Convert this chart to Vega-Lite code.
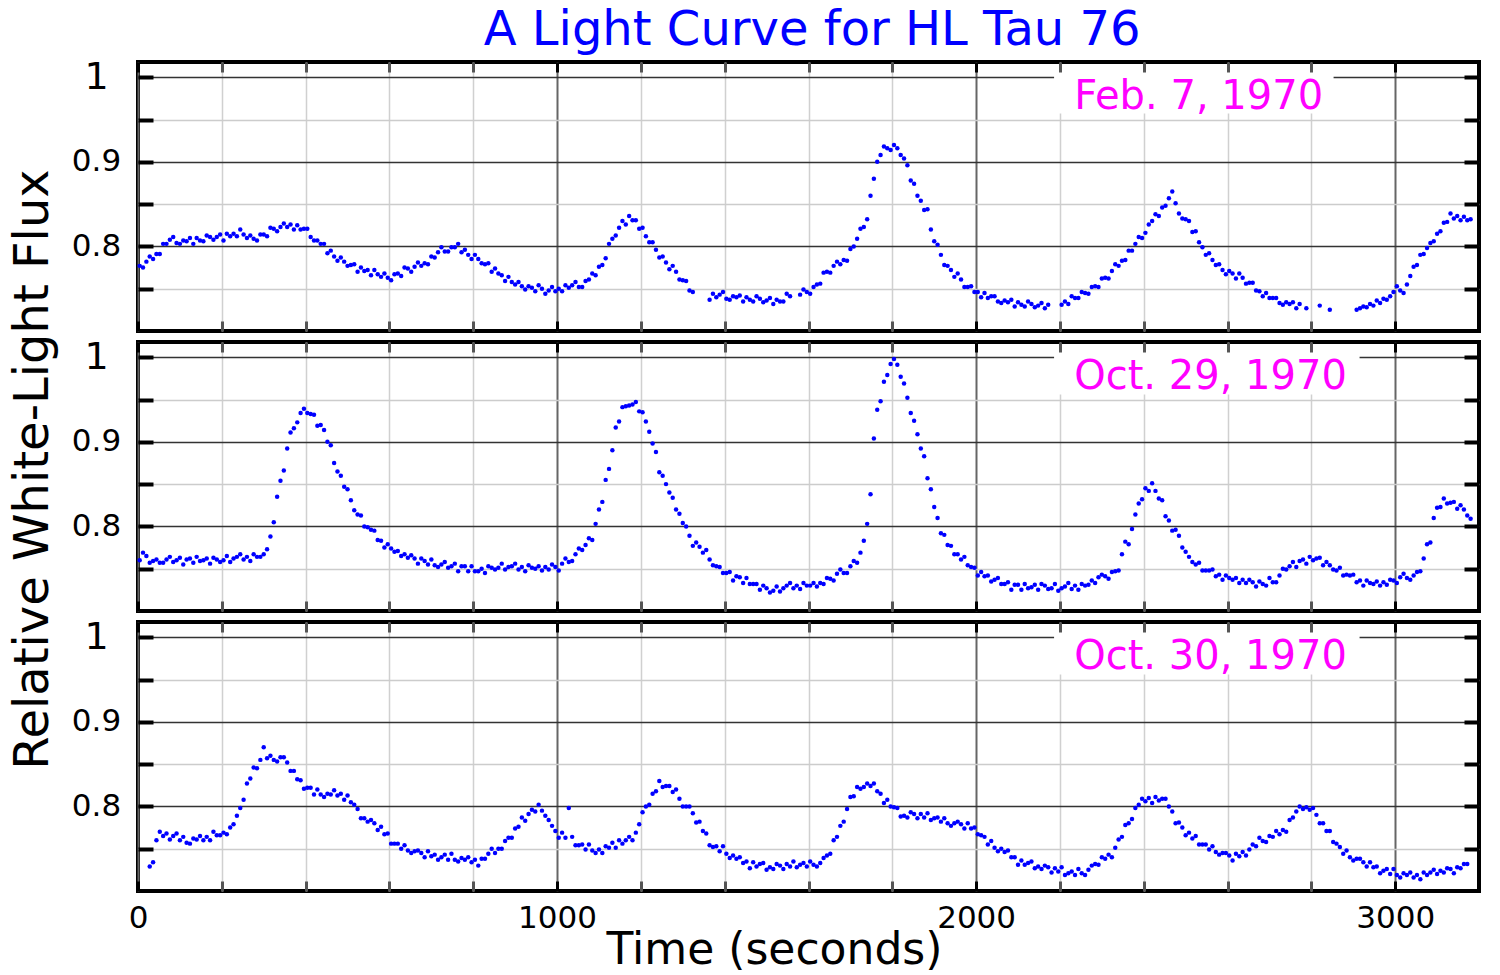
{
"$schema": "https://vega.github.io/schema/vega-lite/v6.json",
"background": "white",
"padding": {"left": 7, "top": 7, "right": 15, "bottom": 5},
"title": {"text": "A Light Curve for HL Tau 76", "color": "#0000ff", "fontSize": 48, "fontWeight": "normal", "anchor": "middle", "offset": 1, "dx": 67},
"config": {"font": "DejaVu Sans", "view": {"stroke": "black", "strokeWidth": 4}, "axis": {"labelColor": "#000000", "titleColor": "#000000"}},
"spacing": 11,
"bounds": "flush",
"datasets": {
"p1": [{"t":4,"f":0.777},{"t":12,"f":0.775},{"t":20,"f":0.782},{"t":28,"f":0.788},{"t":36,"f":0.785},{"t":44,"f":0.791},{"t":52,"f":0.791},{"t":60,"f":0.803},{"t":68,"f":0.803},{"t":76,"f":0.808},{"t":84,"f":0.811},{"t":92,"f":0.804},{"t":100,"f":0.803},{"t":108,"f":0.807},{"t":116,"f":0.806},{"t":124,"f":0.810},{"t":132,"f":0.803},{"t":140,"f":0.810},{"t":148,"f":0.807},{"t":156,"f":0.806},{"t":164,"f":0.813},{"t":172,"f":0.811},{"t":180,"f":0.808},{"t":188,"f":0.811},{"t":196,"f":0.814},{"t":204,"f":0.807},{"t":212,"f":0.815},{"t":220,"f":0.812},{"t":228,"f":0.815},{"t":236,"f":0.812},{"t":244,"f":0.820},{"t":252,"f":0.814},{"t":260,"f":0.810},{"t":268,"f":0.813},{"t":276,"f":0.809},{"t":284,"f":0.807},{"t":292,"f":0.814},{"t":300,"f":0.814},{"t":308,"f":0.812},{"t":316,"f":0.822},{"t":324,"f":0.821},{"t":332,"f":0.818},{"t":340,"f":0.823},{"t":348,"f":0.827},{"t":356,"f":0.823},{"t":364,"f":0.826},{"t":372,"f":0.820},{"t":380,"f":0.825},{"t":388,"f":0.820},{"t":396,"f":0.821},{"t":404,"f":0.821},{"t":412,"f":0.811},{"t":420,"f":0.807},{"t":428,"f":0.807},{"t":436,"f":0.803},{"t":444,"f":0.803},{"t":452,"f":0.792},{"t":460,"f":0.795},{"t":468,"f":0.788},{"t":476,"f":0.783},{"t":484,"f":0.787},{"t":492,"f":0.782},{"t":500,"f":0.777},{"t":508,"f":0.778},{"t":516,"f":0.779},{"t":524,"f":0.770},{"t":532,"f":0.775},{"t":540,"f":0.771},{"t":548,"f":0.772},{"t":556,"f":0.766},{"t":564,"f":0.772},{"t":572,"f":0.767},{"t":580,"f":0.764},{"t":588,"f":0.768},{"t":596,"f":0.763},{"t":604,"f":0.760},{"t":612,"f":0.767},{"t":620,"f":0.768},{"t":628,"f":0.765},{"t":636,"f":0.775},{"t":644,"f":0.774},{"t":652,"f":0.770},{"t":660,"f":0.776},{"t":668,"f":0.781},{"t":676,"f":0.777},{"t":684,"f":0.780},{"t":692,"f":0.779},{"t":700,"f":0.788},{"t":708,"f":0.787},{"t":716,"f":0.793},{"t":724,"f":0.799},{"t":732,"f":0.794},{"t":740,"f":0.794},{"t":748,"f":0.799},{"t":756,"f":0.799},{"t":764,"f":0.803},{"t":772,"f":0.793},{"t":780,"f":0.796},{"t":788,"f":0.790},{"t":796,"f":0.785},{"t":804,"f":0.790},{"t":812,"f":0.785},{"t":820,"f":0.780},{"t":828,"f":0.779},{"t":836,"f":0.780},{"t":844,"f":0.770},{"t":852,"f":0.774},{"t":860,"f":0.768},{"t":868,"f":0.766},{"t":876,"f":0.759},{"t":884,"f":0.764},{"t":892,"f":0.758},{"t":900,"f":0.755},{"t":908,"f":0.758},{"t":916,"f":0.753},{"t":924,"f":0.749},{"t":932,"f":0.753},{"t":940,"f":0.751},{"t":948,"f":0.747},{"t":956,"f":0.754},{"t":964,"f":0.750},{"t":972,"f":0.744},{"t":980,"f":0.748},{"t":988,"f":0.752},{"t":996,"f":0.747},{"t":1004,"f":0.750},{"t":1012,"f":0.747},{"t":1020,"f":0.754},{"t":1028,"f":0.751},{"t":1036,"f":0.754},{"t":1044,"f":0.758},{"t":1052,"f":0.752},{"t":1060,"f":0.752},{"t":1068,"f":0.759},{"t":1076,"f":0.761},{"t":1084,"f":0.768},{"t":1092,"f":0.766},{"t":1100,"f":0.776},{"t":1108,"f":0.778},{"t":1116,"f":0.786},{"t":1124,"f":0.803},{"t":1132,"f":0.809},{"t":1140,"f":0.813},{"t":1148,"f":0.822},{"t":1156,"f":0.830},{"t":1164,"f":0.826},{"t":1172,"f":0.836},{"t":1180,"f":0.831},{"t":1188,"f":0.831},{"t":1196,"f":0.821},{"t":1204,"f":0.822},{"t":1212,"f":0.812},{"t":1220,"f":0.805},{"t":1228,"f":0.805},{"t":1236,"f":0.796},{"t":1244,"f":0.787},{"t":1252,"f":0.788},{"t":1260,"f":0.781},{"t":1268,"f":0.773},{"t":1276,"f":0.777},{"t":1284,"f":0.770},{"t":1292,"f":0.761},{"t":1300,"f":0.760},{"t":1308,"f":0.759},{"t":1316,"f":0.748},{"t":1324,"f":0.746},{"t":1364,"f":0.737},{"t":1372,"f":0.744},{"t":1380,"f":0.740},{"t":1388,"f":0.743},{"t":1396,"f":0.746},{"t":1404,"f":0.738},{"t":1412,"f":0.737},{"t":1420,"f":0.741},{"t":1428,"f":0.740},{"t":1436,"f":0.742},{"t":1444,"f":0.735},{"t":1452,"f":0.740},{"t":1460,"f":0.737},{"t":1468,"f":0.735},{"t":1476,"f":0.741},{"t":1484,"f":0.738},{"t":1492,"f":0.734},{"t":1500,"f":0.736},{"t":1508,"f":0.739},{"t":1516,"f":0.732},{"t":1524,"f":0.737},{"t":1532,"f":0.735},{"t":1540,"f":0.735},{"t":1548,"f":0.744},{"t":1556,"f":0.741},{"t":1580,"f":0.743},{"t":1588,"f":0.749},{"t":1596,"f":0.746},{"t":1604,"f":0.744},{"t":1612,"f":0.752},{"t":1620,"f":0.755},{"t":1628,"f":0.756},{"t":1636,"f":0.769},{"t":1644,"f":0.770},{"t":1652,"f":0.769},{"t":1660,"f":0.777},{"t":1668,"f":0.782},{"t":1676,"f":0.779},{"t":1684,"f":0.784},{"t":1692,"f":0.783},{"t":1700,"f":0.797},{"t":1708,"f":0.800},{"t":1716,"f":0.809},{"t":1724,"f":0.821},{"t":1732,"f":0.823},{"t":1740,"f":0.832},{"t":1748,"f":0.860},{"t":1756,"f":0.880},{"t":1764,"f":0.900},{"t":1772,"f":0.908},{"t":1780,"f":0.918},{"t":1788,"f":0.916},{"t":1796,"f":0.914},{"t":1804,"f":0.920},{"t":1812,"f":0.916},{"t":1820,"f":0.908},{"t":1828,"f":0.904},{"t":1836,"f":0.896},{"t":1844,"f":0.878},{"t":1852,"f":0.874},{"t":1860,"f":0.860},{"t":1868,"f":0.854},{"t":1876,"f":0.843},{"t":1884,"f":0.844},{"t":1892,"f":0.820},{"t":1900,"f":0.806},{"t":1908,"f":0.802},{"t":1916,"f":0.790},{"t":1924,"f":0.778},{"t":1932,"f":0.777},{"t":1940,"f":0.772},{"t":1948,"f":0.764},{"t":1956,"f":0.768},{"t":1964,"f":0.761},{"t":1972,"f":0.752},{"t":1980,"f":0.752},{"t":1988,"f":0.753},{"t":1996,"f":0.746},{"t":2004,"f":0.746},{"t":2012,"f":0.740},{"t":2020,"f":0.745},{"t":2028,"f":0.739},{"t":2036,"f":0.741},{"t":2044,"f":0.741},{"t":2052,"f":0.735},{"t":2060,"f":0.733},{"t":2068,"f":0.736},{"t":2076,"f":0.734},{"t":2084,"f":0.737},{"t":2092,"f":0.729},{"t":2100,"f":0.734},{"t":2108,"f":0.731},{"t":2116,"f":0.729},{"t":2124,"f":0.735},{"t":2132,"f":0.732},{"t":2140,"f":0.728},{"t":2148,"f":0.730},{"t":2156,"f":0.733},{"t":2164,"f":0.727},{"t":2172,"f":0.731},{"t":2204,"f":0.731},{"t":2212,"f":0.735},{"t":2220,"f":0.732},{"t":2228,"f":0.741},{"t":2236,"f":0.739},{"t":2244,"f":0.739},{"t":2252,"f":0.746},{"t":2260,"f":0.745},{"t":2268,"f":0.744},{"t":2276,"f":0.752},{"t":2284,"f":0.753},{"t":2292,"f":0.752},{"t":2300,"f":0.762},{"t":2308,"f":0.763},{"t":2316,"f":0.762},{"t":2324,"f":0.771},{"t":2332,"f":0.779},{"t":2340,"f":0.777},{"t":2348,"f":0.783},{"t":2356,"f":0.784},{"t":2364,"f":0.795},{"t":2372,"f":0.795},{"t":2380,"f":0.803},{"t":2388,"f":0.811},{"t":2396,"f":0.810},{"t":2404,"f":0.816},{"t":2412,"f":0.826},{"t":2420,"f":0.830},{"t":2428,"f":0.838},{"t":2436,"f":0.836},{"t":2444,"f":0.846},{"t":2452,"f":0.848},{"t":2460,"f":0.857},{"t":2468,"f":0.865},{"t":2476,"f":0.851},{"t":2484,"f":0.839},{"t":2492,"f":0.833},{"t":2500,"f":0.832},{"t":2508,"f":0.830},{"t":2516,"f":0.817},{"t":2524,"f":0.818},{"t":2532,"f":0.805},{"t":2540,"f":0.799},{"t":2548,"f":0.790},{"t":2556,"f":0.792},{"t":2564,"f":0.784},{"t":2572,"f":0.778},{"t":2580,"f":0.779},{"t":2588,"f":0.772},{"t":2596,"f":0.767},{"t":2604,"f":0.771},{"t":2612,"f":0.768},{"t":2620,"f":0.762},{"t":2628,"f":0.768},{"t":2636,"f":0.763},{"t":2644,"f":0.756},{"t":2652,"f":0.757},{"t":2660,"f":0.757},{"t":2668,"f":0.748},{"t":2676,"f":0.747},{"t":2684,"f":0.741},{"t":2692,"f":0.745},{"t":2700,"f":0.739},{"t":2708,"f":0.739},{"t":2716,"f":0.739},{"t":2724,"f":0.733},{"t":2732,"f":0.731},{"t":2740,"f":0.734},{"t":2748,"f":0.732},{"t":2756,"f":0.734},{"t":2764,"f":0.727},{"t":2772,"f":0.732},{"t":2788,"f":0.727},{"t":2820,"f":0.730},{"t":2844,"f":0.725},{"t":2908,"f":0.725},{"t":2916,"f":0.727},{"t":2924,"f":0.729},{"t":2932,"f":0.728},{"t":2940,"f":0.732},{"t":2948,"f":0.730},{"t":2956,"f":0.736},{"t":2964,"f":0.733},{"t":2972,"f":0.738},{"t":2980,"f":0.737},{"t":2988,"f":0.741},{"t":2996,"f":0.746},{"t":3004,"f":0.753},{"t":3012,"f":0.748},{"t":3020,"f":0.745},{"t":3028,"f":0.755},{"t":3036,"f":0.765},{"t":3044,"f":0.776},{"t":3052,"f":0.778},{"t":3060,"f":0.790},{"t":3068,"f":0.791},{"t":3076,"f":0.798},{"t":3084,"f":0.804},{"t":3092,"f":0.806},{"t":3100,"f":0.815},{"t":3108,"f":0.818},{"t":3116,"f":0.828},{"t":3124,"f":0.829},{"t":3132,"f":0.839},{"t":3140,"f":0.833},{"t":3148,"f":0.836},{"t":3156,"f":0.831},{"t":3164,"f":0.835},{"t":3172,"f":0.831},{"t":3180,"f":0.832}],
"p2": [{"t":4,"f":0.760},{"t":12,"f":0.769},{"t":20,"f":0.765},{"t":28,"f":0.757},{"t":36,"f":0.759},{"t":44,"f":0.761},{"t":52,"f":0.757},{"t":60,"f":0.757},{"t":68,"f":0.761},{"t":76,"f":0.764},{"t":84,"f":0.758},{"t":92,"f":0.760},{"t":100,"f":0.763},{"t":108,"f":0.755},{"t":116,"f":0.761},{"t":124,"f":0.762},{"t":132,"f":0.757},{"t":140,"f":0.764},{"t":148,"f":0.759},{"t":156,"f":0.760},{"t":164,"f":0.762},{"t":172,"f":0.756},{"t":180,"f":0.763},{"t":188,"f":0.761},{"t":196,"f":0.758},{"t":204,"f":0.760},{"t":212,"f":0.765},{"t":220,"f":0.758},{"t":228,"f":0.762},{"t":236,"f":0.764},{"t":244,"f":0.767},{"t":252,"f":0.761},{"t":260,"f":0.764},{"t":268,"f":0.759},{"t":276,"f":0.767},{"t":284,"f":0.764},{"t":292,"f":0.764},{"t":300,"f":0.767},{"t":308,"f":0.773},{"t":316,"f":0.788},{"t":324,"f":0.805},{"t":332,"f":0.835},{"t":340,"f":0.854},{"t":348,"f":0.866},{"t":356,"f":0.892},{"t":364,"f":0.911},{"t":372,"f":0.916},{"t":380,"f":0.923},{"t":388,"f":0.934},{"t":396,"f":0.939},{"t":404,"f":0.934},{"t":412,"f":0.933},{"t":420,"f":0.932},{"t":428,"f":0.919},{"t":436,"f":0.920},{"t":444,"f":0.914},{"t":452,"f":0.900},{"t":460,"f":0.896},{"t":468,"f":0.875},{"t":476,"f":0.865},{"t":484,"f":0.860},{"t":492,"f":0.847},{"t":500,"f":0.844},{"t":508,"f":0.831},{"t":516,"f":0.819},{"t":524,"f":0.814},{"t":532,"f":0.813},{"t":540,"f":0.800},{"t":548,"f":0.799},{"t":556,"f":0.796},{"t":564,"f":0.795},{"t":572,"f":0.784},{"t":580,"f":0.783},{"t":588,"f":0.775},{"t":596,"f":0.779},{"t":604,"f":0.774},{"t":612,"f":0.770},{"t":620,"f":0.771},{"t":628,"f":0.765},{"t":636,"f":0.767},{"t":644,"f":0.763},{"t":652,"f":0.766},{"t":660,"f":0.762},{"t":668,"f":0.756},{"t":676,"f":0.762},{"t":684,"f":0.759},{"t":692,"f":0.755},{"t":700,"f":0.761},{"t":708,"f":0.754},{"t":716,"f":0.752},{"t":724,"f":0.755},{"t":732,"f":0.758},{"t":740,"f":0.751},{"t":748,"f":0.753},{"t":756,"f":0.756},{"t":764,"f":0.747},{"t":772,"f":0.753},{"t":780,"f":0.753},{"t":788,"f":0.747},{"t":796,"f":0.753},{"t":804,"f":0.747},{"t":812,"f":0.747},{"t":820,"f":0.750},{"t":828,"f":0.745},{"t":836,"f":0.753},{"t":844,"f":0.751},{"t":852,"f":0.749},{"t":860,"f":0.751},{"t":868,"f":0.756},{"t":876,"f":0.749},{"t":884,"f":0.752},{"t":892,"f":0.753},{"t":900,"f":0.756},{"t":908,"f":0.749},{"t":916,"f":0.752},{"t":924,"f":0.747},{"t":932,"f":0.754},{"t":940,"f":0.751},{"t":948,"f":0.750},{"t":956,"f":0.753},{"t":964,"f":0.748},{"t":972,"f":0.752},{"t":980,"f":0.749},{"t":988,"f":0.755},{"t":996,"f":0.752},{"t":1004,"f":0.748},{"t":1012,"f":0.756},{"t":1020,"f":0.762},{"t":1028,"f":0.758},{"t":1036,"f":0.759},{"t":1044,"f":0.767},{"t":1052,"f":0.774},{"t":1060,"f":0.772},{"t":1068,"f":0.778},{"t":1076,"f":0.786},{"t":1084,"f":0.784},{"t":1092,"f":0.803},{"t":1100,"f":0.820},{"t":1108,"f":0.829},{"t":1116,"f":0.855},{"t":1124,"f":0.868},{"t":1132,"f":0.890},{"t":1140,"f":0.917},{"t":1148,"f":0.924},{"t":1156,"f":0.941},{"t":1164,"f":0.942},{"t":1172,"f":0.943},{"t":1180,"f":0.944},{"t":1188,"f":0.947},{"t":1196,"f":0.936},{"t":1204,"f":0.935},{"t":1212,"f":0.924},{"t":1220,"f":0.912},{"t":1228,"f":0.898},{"t":1236,"f":0.888},{"t":1244,"f":0.864},{"t":1252,"f":0.860},{"t":1260,"f":0.850},{"t":1268,"f":0.840},{"t":1276,"f":0.834},{"t":1284,"f":0.820},{"t":1292,"f":0.815},{"t":1300,"f":0.804},{"t":1308,"f":0.800},{"t":1316,"f":0.789},{"t":1324,"f":0.777},{"t":1332,"f":0.781},{"t":1340,"f":0.776},{"t":1348,"f":0.769},{"t":1356,"f":0.772},{"t":1364,"f":0.761},{"t":1372,"f":0.754},{"t":1380,"f":0.753},{"t":1388,"f":0.752},{"t":1396,"f":0.745},{"t":1404,"f":0.745},{"t":1412,"f":0.746},{"t":1420,"f":0.736},{"t":1428,"f":0.741},{"t":1436,"f":0.740},{"t":1444,"f":0.733},{"t":1452,"f":0.739},{"t":1460,"f":0.732},{"t":1468,"f":0.732},{"t":1476,"f":0.732},{"t":1484,"f":0.725},{"t":1492,"f":0.730},{"t":1500,"f":0.727},{"t":1508,"f":0.722},{"t":1516,"f":0.724},{"t":1524,"f":0.729},{"t":1532,"f":0.723},{"t":1540,"f":0.727},{"t":1548,"f":0.730},{"t":1556,"f":0.733},{"t":1564,"f":0.727},{"t":1572,"f":0.730},{"t":1580,"f":0.726},{"t":1588,"f":0.733},{"t":1596,"f":0.730},{"t":1604,"f":0.730},{"t":1612,"f":0.733},{"t":1620,"f":0.729},{"t":1628,"f":0.733},{"t":1636,"f":0.732},{"t":1644,"f":0.739},{"t":1652,"f":0.738},{"t":1660,"f":0.736},{"t":1668,"f":0.744},{"t":1676,"f":0.749},{"t":1684,"f":0.745},{"t":1692,"f":0.745},{"t":1700,"f":0.753},{"t":1708,"f":0.759},{"t":1716,"f":0.757},{"t":1724,"f":0.769},{"t":1732,"f":0.783},{"t":1740,"f":0.803},{"t":1748,"f":0.838},{"t":1756,"f":0.904},{"t":1764,"f":0.938},{"t":1772,"f":0.948},{"t":1780,"f":0.971},{"t":1788,"f":0.979},{"t":1796,"f":0.992},{"t":1804,"f":0.998},{"t":1812,"f":0.991},{"t":1820,"f":0.977},{"t":1828,"f":0.969},{"t":1836,"f":0.952},{"t":1844,"f":0.934},{"t":1852,"f":0.925},{"t":1860,"f":0.909},{"t":1868,"f":0.892},{"t":1876,"f":0.883},{"t":1884,"f":0.857},{"t":1892,"f":0.844},{"t":1900,"f":0.823},{"t":1908,"f":0.810},{"t":1916,"f":0.792},{"t":1924,"f":0.790},{"t":1932,"f":0.778},{"t":1940,"f":0.777},{"t":1948,"f":0.767},{"t":1956,"f":0.767},{"t":1964,"f":0.761},{"t":1972,"f":0.764},{"t":1980,"f":0.754},{"t":1988,"f":0.752},{"t":1996,"f":0.751},{"t":2004,"f":0.742},{"t":2012,"f":0.746},{"t":2020,"f":0.741},{"t":2028,"f":0.742},{"t":2036,"f":0.735},{"t":2044,"f":0.737},{"t":2052,"f":0.739},{"t":2060,"f":0.732},{"t":2068,"f":0.732},{"t":2076,"f":0.734},{"t":2084,"f":0.725},{"t":2092,"f":0.731},{"t":2100,"f":0.731},{"t":2108,"f":0.725},{"t":2116,"f":0.732},{"t":2124,"f":0.727},{"t":2132,"f":0.728},{"t":2140,"f":0.731},{"t":2148,"f":0.725},{"t":2156,"f":0.732},{"t":2164,"f":0.730},{"t":2172,"f":0.726},{"t":2180,"f":0.727},{"t":2188,"f":0.732},{"t":2196,"f":0.724},{"t":2204,"f":0.727},{"t":2212,"f":0.729},{"t":2220,"f":0.733},{"t":2228,"f":0.726},{"t":2236,"f":0.730},{"t":2244,"f":0.725},{"t":2252,"f":0.732},{"t":2260,"f":0.730},{"t":2268,"f":0.731},{"t":2276,"f":0.736},{"t":2284,"f":0.733},{"t":2292,"f":0.740},{"t":2300,"f":0.743},{"t":2308,"f":0.741},{"t":2316,"f":0.738},{"t":2324,"f":0.746},{"t":2332,"f":0.747},{"t":2340,"f":0.748},{"t":2348,"f":0.767},{"t":2356,"f":0.782},{"t":2364,"f":0.779},{"t":2372,"f":0.797},{"t":2380,"f":0.814},{"t":2388,"f":0.827},{"t":2396,"f":0.832},{"t":2404,"f":0.845},{"t":2412,"f":0.842},{"t":2420,"f":0.851},{"t":2428,"f":0.842},{"t":2436,"f":0.833},{"t":2444,"f":0.831},{"t":2452,"f":0.812},{"t":2460,"f":0.807},{"t":2468,"f":0.795},{"t":2476,"f":0.796},{"t":2484,"f":0.789},{"t":2492,"f":0.775},{"t":2500,"f":0.770},{"t":2508,"f":0.764},{"t":2516,"f":0.758},{"t":2524,"f":0.755},{"t":2532,"f":0.757},{"t":2540,"f":0.748},{"t":2548,"f":0.748},{"t":2556,"f":0.748},{"t":2564,"f":0.749},{"t":2572,"f":0.741},{"t":2580,"f":0.743},{"t":2588,"f":0.737},{"t":2596,"f":0.742},{"t":2604,"f":0.739},{"t":2612,"f":0.737},{"t":2620,"f":0.739},{"t":2628,"f":0.733},{"t":2636,"f":0.737},{"t":2644,"f":0.733},{"t":2652,"f":0.737},{"t":2660,"f":0.734},{"t":2668,"f":0.729},{"t":2676,"f":0.735},{"t":2684,"f":0.732},{"t":2692,"f":0.730},{"t":2700,"f":0.739},{"t":2708,"f":0.734},{"t":2716,"f":0.734},{"t":2724,"f":0.742},{"t":2732,"f":0.750},{"t":2740,"f":0.749},{"t":2748,"f":0.753},{"t":2756,"f":0.758},{"t":2764,"f":0.752},{"t":2772,"f":0.759},{"t":2780,"f":0.761},{"t":2788,"f":0.756},{"t":2796,"f":0.764},{"t":2804,"f":0.760},{"t":2812,"f":0.762},{"t":2820,"f":0.763},{"t":2828,"f":0.754},{"t":2836,"f":0.758},{"t":2844,"f":0.754},{"t":2852,"f":0.749},{"t":2860,"f":0.748},{"t":2868,"f":0.751},{"t":2876,"f":0.742},{"t":2884,"f":0.743},{"t":2892,"f":0.742},{"t":2900,"f":0.743},{"t":2908,"f":0.734},{"t":2916,"f":0.736},{"t":2924,"f":0.730},{"t":2932,"f":0.736},{"t":2940,"f":0.733},{"t":2948,"f":0.732},{"t":2956,"f":0.735},{"t":2964,"f":0.730},{"t":2972,"f":0.734},{"t":2980,"f":0.731},{"t":2988,"f":0.737},{"t":2996,"f":0.736},{"t":3004,"f":0.733},{"t":3012,"f":0.740},{"t":3020,"f":0.744},{"t":3028,"f":0.739},{"t":3036,"f":0.737},{"t":3044,"f":0.742},{"t":3052,"f":0.746},{"t":3060,"f":0.747},{"t":3068,"f":0.762},{"t":3076,"f":0.779},{"t":3084,"f":0.781},{"t":3092,"f":0.810},{"t":3100,"f":0.822},{"t":3108,"f":0.823},{"t":3116,"f":0.833},{"t":3124,"f":0.827},{"t":3132,"f":0.828},{"t":3140,"f":0.829},{"t":3148,"f":0.821},{"t":3156,"f":0.825},{"t":3164,"f":0.820},{"t":3172,"f":0.813},{"t":3180,"f":0.809}],
"p3": [{"t":28,"f":0.729},{"t":36,"f":0.734},{"t":44,"f":0.760},{"t":52,"f":0.770},{"t":60,"f":0.765},{"t":68,"f":0.768},{"t":76,"f":0.761},{"t":84,"f":0.765},{"t":92,"f":0.768},{"t":100,"f":0.760},{"t":108,"f":0.764},{"t":116,"f":0.757},{"t":124,"f":0.756},{"t":132,"f":0.762},{"t":140,"f":0.761},{"t":148,"f":0.765},{"t":156,"f":0.760},{"t":164,"f":0.764},{"t":172,"f":0.760},{"t":180,"f":0.770},{"t":188,"f":0.766},{"t":196,"f":0.766},{"t":204,"f":0.769},{"t":212,"f":0.767},{"t":220,"f":0.775},{"t":228,"f":0.779},{"t":236,"f":0.789},{"t":244,"f":0.798},{"t":252,"f":0.808},{"t":260,"f":0.827},{"t":268,"f":0.833},{"t":276,"f":0.846},{"t":284,"f":0.845},{"t":292,"f":0.855},{"t":300,"f":0.870},{"t":308,"f":0.857},{"t":316,"f":0.860},{"t":324,"f":0.855},{"t":332,"f":0.853},{"t":340,"f":0.858},{"t":348,"f":0.858},{"t":356,"f":0.852},{"t":364,"f":0.842},{"t":372,"f":0.842},{"t":380,"f":0.832},{"t":388,"f":0.831},{"t":396,"f":0.821},{"t":404,"f":0.822},{"t":412,"f":0.822},{"t":420,"f":0.814},{"t":428,"f":0.820},{"t":436,"f":0.814},{"t":444,"f":0.811},{"t":452,"f":0.815},{"t":460,"f":0.814},{"t":468,"f":0.819},{"t":476,"f":0.813},{"t":484,"f":0.815},{"t":492,"f":0.808},{"t":500,"f":0.813},{"t":508,"f":0.805},{"t":516,"f":0.802},{"t":524,"f":0.797},{"t":532,"f":0.786},{"t":540,"f":0.786},{"t":548,"f":0.782},{"t":556,"f":0.784},{"t":564,"f":0.780},{"t":572,"f":0.772},{"t":580,"f":0.776},{"t":588,"f":0.767},{"t":596,"f":0.768},{"t":604,"f":0.756},{"t":612,"f":0.756},{"t":620,"f":0.756},{"t":628,"f":0.750},{"t":636,"f":0.754},{"t":644,"f":0.748},{"t":652,"f":0.745},{"t":660,"f":0.747},{"t":668,"f":0.748},{"t":676,"f":0.745},{"t":684,"f":0.740},{"t":692,"f":0.747},{"t":700,"f":0.741},{"t":708,"f":0.743},{"t":716,"f":0.737},{"t":724,"f":0.740},{"t":732,"f":0.743},{"t":740,"f":0.737},{"t":748,"f":0.744},{"t":756,"f":0.737},{"t":764,"f":0.735},{"t":772,"f":0.739},{"t":780,"f":0.737},{"t":788,"f":0.740},{"t":796,"f":0.734},{"t":804,"f":0.737},{"t":812,"f":0.730},{"t":820,"f":0.738},{"t":828,"f":0.738},{"t":836,"f":0.744},{"t":844,"f":0.750},{"t":852,"f":0.745},{"t":860,"f":0.750},{"t":868,"f":0.750},{"t":876,"f":0.759},{"t":884,"f":0.763},{"t":892,"f":0.763},{"t":900,"f":0.774},{"t":908,"f":0.776},{"t":916,"f":0.787},{"t":924,"f":0.783},{"t":932,"f":0.791},{"t":940,"f":0.796},{"t":948,"f":0.794},{"t":956,"f":0.802},{"t":964,"f":0.795},{"t":972,"f":0.789},{"t":980,"f":0.784},{"t":988,"f":0.777},{"t":996,"f":0.771},{"t":1004,"f":0.763},{"t":1012,"f":0.769},{"t":1020,"f":0.763},{"t":1028,"f":0.798},{"t":1036,"f":0.764},{"t":1044,"f":0.754},{"t":1052,"f":0.754},{"t":1060,"f":0.755},{"t":1068,"f":0.749},{"t":1076,"f":0.755},{"t":1084,"f":0.748},{"t":1092,"f":0.745},{"t":1100,"f":0.749},{"t":1108,"f":0.745},{"t":1116,"f":0.753},{"t":1124,"f":0.751},{"t":1132,"f":0.757},{"t":1140,"f":0.751},{"t":1148,"f":0.760},{"t":1156,"f":0.756},{"t":1164,"f":0.760},{"t":1172,"f":0.764},{"t":1180,"f":0.760},{"t":1188,"f":0.769},{"t":1196,"f":0.779},{"t":1204,"f":0.793},{"t":1212,"f":0.800},{"t":1220,"f":0.802},{"t":1228,"f":0.815},{"t":1236,"f":0.818},{"t":1244,"f":0.830},{"t":1252,"f":0.823},{"t":1260,"f":0.824},{"t":1268,"f":0.824},{"t":1276,"f":0.817},{"t":1284,"f":0.820},{"t":1292,"f":0.809},{"t":1300,"f":0.800},{"t":1308,"f":0.800},{"t":1316,"f":0.800},{"t":1324,"f":0.792},{"t":1332,"f":0.781},{"t":1340,"f":0.782},{"t":1348,"f":0.771},{"t":1356,"f":0.768},{"t":1364,"f":0.754},{"t":1372,"f":0.752},{"t":1380,"f":0.753},{"t":1388,"f":0.747},{"t":1396,"f":0.753},{"t":1404,"f":0.744},{"t":1412,"f":0.739},{"t":1420,"f":0.742},{"t":1428,"f":0.738},{"t":1436,"f":0.740},{"t":1444,"f":0.733},{"t":1452,"f":0.735},{"t":1460,"f":0.727},{"t":1468,"f":0.734},{"t":1476,"f":0.729},{"t":1484,"f":0.732},{"t":1492,"f":0.733},{"t":1500,"f":0.725},{"t":1508,"f":0.728},{"t":1516,"f":0.726},{"t":1524,"f":0.732},{"t":1532,"f":0.730},{"t":1540,"f":0.726},{"t":1548,"f":0.732},{"t":1556,"f":0.729},{"t":1564,"f":0.735},{"t":1572,"f":0.728},{"t":1580,"f":0.731},{"t":1588,"f":0.733},{"t":1596,"f":0.729},{"t":1604,"f":0.735},{"t":1612,"f":0.731},{"t":1620,"f":0.729},{"t":1628,"f":0.733},{"t":1636,"f":0.739},{"t":1644,"f":0.742},{"t":1652,"f":0.744},{"t":1660,"f":0.760},{"t":1668,"f":0.764},{"t":1676,"f":0.777},{"t":1684,"f":0.782},{"t":1692,"f":0.797},{"t":1700,"f":0.811},{"t":1708,"f":0.812},{"t":1716,"f":0.823},{"t":1724,"f":0.821},{"t":1732,"f":0.823},{"t":1740,"f":0.827},{"t":1748,"f":0.824},{"t":1756,"f":0.827},{"t":1764,"f":0.818},{"t":1772,"f":0.815},{"t":1780,"f":0.804},{"t":1788,"f":0.808},{"t":1796,"f":0.800},{"t":1804,"f":0.799},{"t":1812,"f":0.798},{"t":1820,"f":0.788},{"t":1828,"f":0.789},{"t":1836,"f":0.787},{"t":1844,"f":0.793},{"t":1852,"f":0.791},{"t":1860,"f":0.786},{"t":1868,"f":0.791},{"t":1876,"f":0.787},{"t":1884,"f":0.792},{"t":1892,"f":0.784},{"t":1900,"f":0.786},{"t":1908,"f":0.787},{"t":1916,"f":0.782},{"t":1924,"f":0.786},{"t":1932,"f":0.780},{"t":1940,"f":0.777},{"t":1948,"f":0.780},{"t":1956,"f":0.782},{"t":1964,"f":0.779},{"t":1972,"f":0.774},{"t":1980,"f":0.780},{"t":1988,"f":0.774},{"t":1996,"f":0.775},{"t":2004,"f":0.767},{"t":2012,"f":0.766},{"t":2020,"f":0.764},{"t":2028,"f":0.755},{"t":2036,"f":0.759},{"t":2044,"f":0.751},{"t":2052,"f":0.747},{"t":2060,"f":0.750},{"t":2068,"f":0.746},{"t":2076,"f":0.748},{"t":2084,"f":0.740},{"t":2092,"f":0.740},{"t":2100,"f":0.731},{"t":2108,"f":0.736},{"t":2116,"f":0.731},{"t":2124,"f":0.733},{"t":2132,"f":0.735},{"t":2140,"f":0.727},{"t":2148,"f":0.729},{"t":2156,"f":0.726},{"t":2164,"f":0.730},{"t":2172,"f":0.728},{"t":2180,"f":0.722},{"t":2188,"f":0.727},{"t":2196,"f":0.723},{"t":2204,"f":0.728},{"t":2212,"f":0.719},{"t":2220,"f":0.721},{"t":2228,"f":0.723},{"t":2236,"f":0.719},{"t":2244,"f":0.726},{"t":2252,"f":0.721},{"t":2260,"f":0.719},{"t":2268,"f":0.725},{"t":2276,"f":0.730},{"t":2284,"f":0.732},{"t":2292,"f":0.731},{"t":2300,"f":0.740},{"t":2308,"f":0.738},{"t":2316,"f":0.743},{"t":2324,"f":0.740},{"t":2332,"f":0.751},{"t":2340,"f":0.761},{"t":2348,"f":0.764},{"t":2356,"f":0.778},{"t":2364,"f":0.780},{"t":2372,"f":0.785},{"t":2380,"f":0.798},{"t":2388,"f":0.802},{"t":2396,"f":0.809},{"t":2404,"f":0.806},{"t":2412,"f":0.810},{"t":2420,"f":0.804},{"t":2428,"f":0.811},{"t":2436,"f":0.807},{"t":2444,"f":0.809},{"t":2452,"f":0.809},{"t":2460,"f":0.800},{"t":2468,"f":0.794},{"t":2476,"f":0.780},{"t":2484,"f":0.781},{"t":2492,"f":0.775},{"t":2500,"f":0.766},{"t":2508,"f":0.769},{"t":2516,"f":0.762},{"t":2524,"f":0.765},{"t":2532,"f":0.755},{"t":2540,"f":0.755},{"t":2548,"f":0.755},{"t":2556,"f":0.749},{"t":2564,"f":0.753},{"t":2572,"f":0.746},{"t":2580,"f":0.743},{"t":2588,"f":0.745},{"t":2596,"f":0.745},{"t":2604,"f":0.742},{"t":2612,"f":0.736},{"t":2620,"f":0.744},{"t":2628,"f":0.741},{"t":2636,"f":0.746},{"t":2644,"f":0.742},{"t":2652,"f":0.749},{"t":2660,"f":0.755},{"t":2668,"f":0.753},{"t":2676,"f":0.763},{"t":2684,"f":0.759},{"t":2692,"f":0.758},{"t":2700,"f":0.765},{"t":2708,"f":0.764},{"t":2716,"f":0.771},{"t":2724,"f":0.767},{"t":2732,"f":0.772},{"t":2740,"f":0.770},{"t":2748,"f":0.784},{"t":2756,"f":0.787},{"t":2764,"f":0.794},{"t":2772,"f":0.800},{"t":2780,"f":0.797},{"t":2788,"f":0.799},{"t":2796,"f":0.796},{"t":2804,"f":0.798},{"t":2812,"f":0.790},{"t":2820,"f":0.780},{"t":2828,"f":0.780},{"t":2836,"f":0.771},{"t":2844,"f":0.771},{"t":2852,"f":0.758},{"t":2860,"f":0.756},{"t":2868,"f":0.752},{"t":2876,"f":0.744},{"t":2884,"f":0.748},{"t":2892,"f":0.740},{"t":2900,"f":0.736},{"t":2908,"f":0.738},{"t":2916,"f":0.738},{"t":2924,"f":0.734},{"t":2932,"f":0.729},{"t":2940,"f":0.734},{"t":2948,"f":0.728},{"t":2956,"f":0.729},{"t":2964,"f":0.721},{"t":2972,"f":0.724},{"t":2980,"f":0.726},{"t":2988,"f":0.720},{"t":2996,"f":0.726},{"t":3004,"f":0.719},{"t":3012,"f":0.716},{"t":3020,"f":0.721},{"t":3028,"f":0.719},{"t":3036,"f":0.722},{"t":3044,"f":0.716},{"t":3052,"f":0.719},{"t":3060,"f":0.714},{"t":3068,"f":0.722},{"t":3076,"f":0.719},{"t":3084,"f":0.722},{"t":3092,"f":0.725},{"t":3100,"f":0.720},{"t":3108,"f":0.724},{"t":3116,"f":0.722},{"t":3124,"f":0.727},{"t":3132,"f":0.726},{"t":3140,"f":0.721},{"t":3148,"f":0.728},{"t":3156,"f":0.727},{"t":3164,"f":0.732},{"t":3172,"f":0.732}]
},
"vconcat": [
{
"width": 1341, "height": 269,
"resolve": {"axis": {"x": "independent", "y": "independent"}},
"layer": [
{"data": {"values": [{}]}, "mark": {"type": "rect", "fill": "white", "strokeWidth": 0},
 "encoding": {"x": {"datum": 2186, "type": "quantitative", "axis": null}, "x2": {"datum": 2853}, "y": {"datum": 0.957, "type": "quantitative", "axis": null}, "y2": {"datum": 1.014}}},
{"data": {"name": "p1"}, "mark": {"type": "point", "filled": true, "size": 20, "color": "#0000ff", "opacity": 1, "strokeWidth": 0},
 "encoding": {
  "x": {"field": "t", "type": "quantitative", "scale": {"domain": [0, 3200], "nice": false, "zero": false},
   "axis": {"orient": "bottom", "values": [0,200,400,600,800,1000,1200,1400,1600,1800,2000,2200,2400,2600,2800,3000], "grid": true, "gridColor": {"condition": {"test": "datum.value % 1000 == 0", "value": "#666666"}, "value": "#d0d0d0"}, "gridWidth": {"condition": {"test": "datum.value % 1000 == 0", "value": 2}, "value": 1.5}, "ticks": true, "tickSize": -10, "tickWidth": 3, "tickColor": {"condition": {"test": "datum.value % 1000 == 0", "value": "#000000"}, "value": "#555555"}, "labels": false, "domain": false, "title": null, "zindex": 0}},
  "y": {"field": "f", "type": "quantitative", "scale": {"domain": [0.7, 1.018], "nice": false, "zero": false},
   "axis": {"orient": "left", "values": [0.75,0.8,0.85,0.9,0.95,1], "grid": true, "gridColor": {"condition": {"test": "datum.value == 0.8 || datum.value == 0.9 || datum.value == 1", "value": "#333333"}, "value": "#cccccc"}, "gridWidth": {"condition": {"test": "datum.value == 0.8 || datum.value == 0.9 || datum.value == 1", "value": 1.3}, "value": 1.5}, "ticks": true, "tickSize": -15, "tickWidth": 4, "tickColor": "#000000", "labelExpr": "datum.value == 0.8 ? '0.8' : datum.value == 0.9 ? '0.9' : datum.value == 1 ? '1' : ''", "labelFontSize": {"condition": {"test": "datum.value == 1", "value": 38}, "value": 31}, "labelAlign": "center", "labelBaseline": "middle", "labelPadding": 57, "labelOverlap": false, "domain": false, "title": null, "zindex": 0}}
 }},
{"data": {"values": [{"label": "Feb. 7, 1970"}]}, "mark": {"type": "text", "align": "left", "baseline": "alphabetic", "fontSize": 40, "color": "#ff00ff"},
 "encoding": {
  "x": {"datum": 2234, "type": "quantitative", "axis": {"orient": "top", "values": [0,200,400,600,800,1000,1200,1400,1600,1800,2000,2200,2400,2600,2800,3000], "grid": false, "ticks": true, "tickSize": -10, "tickWidth": 3, "tickColor": {"condition": {"test": "datum.value % 1000 == 0", "value": "#000000"}, "value": "#555555"}, "labels": false, "domain": false, "title": null, "zindex": 1}},
  "y": {"datum": 0.962, "type": "quantitative", "axis": {"orient": "right", "values": [0.75,0.8,0.85,0.9,0.95,1], "grid": false, "ticks": true, "tickSize": -15, "tickWidth": 4, "tickColor": "#000000", "labels": false, "domain": false, "title": null, "zindex": 1}},
  "text": {"field": "label"}
 }}
]
},
{
"width": 1341, "height": 269,
"resolve": {"axis": {"x": "independent", "y": "independent"}},
"layer": [
{"data": {"values": [{}]}, "mark": {"type": "rect", "fill": "white", "strokeWidth": 0},
 "encoding": {"x": {"datum": 2186, "type": "quantitative", "axis": null}, "x2": {"datum": 2915}, "y": {"datum": 0.956, "type": "quantitative", "axis": null}, "y2": {"datum": 1.014}}},
{"data": {"name": "p2"}, "mark": {"type": "point", "filled": true, "size": 20, "color": "#0000ff", "opacity": 1, "strokeWidth": 0},
 "encoding": {
  "x": {"field": "t", "type": "quantitative", "scale": {"domain": [0, 3200], "nice": false, "zero": false},
   "axis": {"orient": "bottom", "values": [0,200,400,600,800,1000,1200,1400,1600,1800,2000,2200,2400,2600,2800,3000], "grid": true, "gridColor": {"condition": {"test": "datum.value % 1000 == 0", "value": "#666666"}, "value": "#d0d0d0"}, "gridWidth": {"condition": {"test": "datum.value % 1000 == 0", "value": 2}, "value": 1.5}, "ticks": true, "tickSize": -10, "tickWidth": 3, "tickColor": {"condition": {"test": "datum.value % 1000 == 0", "value": "#000000"}, "value": "#555555"}, "labels": false, "domain": false, "title": null, "zindex": 0}},
  "y": {"field": "f", "type": "quantitative", "scale": {"domain": [0.7, 1.018], "nice": false, "zero": false},
   "axis": {"orient": "left", "values": [0.75,0.8,0.85,0.9,0.95,1], "grid": true, "gridColor": {"condition": {"test": "datum.value == 0.8 || datum.value == 0.9 || datum.value == 1", "value": "#333333"}, "value": "#cccccc"}, "gridWidth": {"condition": {"test": "datum.value == 0.8 || datum.value == 0.9 || datum.value == 1", "value": 1.3}, "value": 1.5}, "ticks": true, "tickSize": -15, "tickWidth": 4, "tickColor": "#000000", "labelExpr": "datum.value == 0.8 ? '0.8' : datum.value == 0.9 ? '0.9' : datum.value == 1 ? '1' : ''", "labelFontSize": {"condition": {"test": "datum.value == 1", "value": 38}, "value": 31}, "labelAlign": "center", "labelBaseline": "middle", "labelPadding": 57, "labelOverlap": false, "domain": false, "title": "Relative White-Light Flux", "titleFontSize": 48, "titleFontWeight": "normal", "titlePadding": 14, "titleY": 127, "zindex": 0}}
 }},
{"data": {"values": [{"label": "Oct. 29, 1970"}]}, "mark": {"type": "text", "align": "left", "baseline": "alphabetic", "fontSize": 40, "color": "#ff00ff"},
 "encoding": {
  "x": {"datum": 2234, "type": "quantitative", "axis": {"orient": "top", "values": [0,200,400,600,800,1000,1200,1400,1600,1800,2000,2200,2400,2600,2800,3000], "grid": false, "ticks": true, "tickSize": -10, "tickWidth": 3, "tickColor": {"condition": {"test": "datum.value % 1000 == 0", "value": "#000000"}, "value": "#555555"}, "labels": false, "domain": false, "title": null, "zindex": 1}},
  "y": {"datum": 0.962, "type": "quantitative", "axis": {"orient": "right", "values": [0.75,0.8,0.85,0.9,0.95,1], "grid": false, "ticks": true, "tickSize": -15, "tickWidth": 4, "tickColor": "#000000", "labels": false, "domain": false, "title": null, "zindex": 1}},
  "text": {"field": "label"}
 }}
]
},
{
"width": 1341, "height": 269,
"resolve": {"axis": {"x": "independent", "y": "independent"}},
"layer": [
{"data": {"values": [{}]}, "mark": {"type": "rect", "fill": "white", "strokeWidth": 0},
 "encoding": {"x": {"datum": 2186, "type": "quantitative", "axis": null}, "x2": {"datum": 2915}, "y": {"datum": 0.956, "type": "quantitative", "axis": null}, "y2": {"datum": 1.014}}},
{"data": {"name": "p3"}, "mark": {"type": "point", "filled": true, "size": 20, "color": "#0000ff", "opacity": 1, "strokeWidth": 0},
 "encoding": {
  "x": {"field": "t", "type": "quantitative", "scale": {"domain": [0, 3200], "nice": false, "zero": false},
   "axis": {"orient": "bottom", "values": [0,200,400,600,800,1000,1200,1400,1600,1800,2000,2200,2400,2600,2800,3000], "grid": true, "gridColor": {"condition": {"test": "datum.value % 1000 == 0", "value": "#666666"}, "value": "#d0d0d0"}, "gridWidth": {"condition": {"test": "datum.value % 1000 == 0", "value": 2}, "value": 1.5}, "ticks": true, "tickSize": -10, "tickWidth": 3, "tickColor": {"condition": {"test": "datum.value % 1000 == 0", "value": "#000000"}, "value": "#555555"}, "labels": true, "format": "d", "labelExpr": "datum.value % 1000 == 0 ? datum.label : ''", "labelFontSize": 31, "labelPadding": 22, "labelFlush": false, "labelOverlap": false, "domain": false, "title": "Time (seconds)", "titleFontSize": 44, "titleFontWeight": "normal", "titleBaseline": "alphabetic", "titleAnchor": "start", "titleAlign": "center", "titleX": 636, "titleY": 72, "zindex": 0}},
  "y": {"field": "f", "type": "quantitative", "scale": {"domain": [0.7, 1.018], "nice": false, "zero": false},
   "axis": {"orient": "left", "values": [0.75,0.8,0.85,0.9,0.95,1], "grid": true, "gridColor": {"condition": {"test": "datum.value == 0.8 || datum.value == 0.9 || datum.value == 1", "value": "#333333"}, "value": "#cccccc"}, "gridWidth": {"condition": {"test": "datum.value == 0.8 || datum.value == 0.9 || datum.value == 1", "value": 1.3}, "value": 1.5}, "ticks": true, "tickSize": -15, "tickWidth": 4, "tickColor": "#000000", "labelExpr": "datum.value == 0.8 ? '0.8' : datum.value == 0.9 ? '0.9' : datum.value == 1 ? '1' : ''", "labelFontSize": {"condition": {"test": "datum.value == 1", "value": 38}, "value": 31}, "labelAlign": "center", "labelBaseline": "middle", "labelPadding": 57, "labelOverlap": false, "domain": false, "title": null, "zindex": 0}}
 }},
{"data": {"values": [{"label": "Oct. 30, 1970"}]}, "mark": {"type": "text", "align": "left", "baseline": "alphabetic", "fontSize": 40, "color": "#ff00ff"},
 "encoding": {
  "x": {"datum": 2234, "type": "quantitative", "axis": {"orient": "top", "values": [0,200,400,600,800,1000,1200,1400,1600,1800,2000,2200,2400,2600,2800,3000], "grid": false, "ticks": true, "tickSize": -10, "tickWidth": 3, "tickColor": {"condition": {"test": "datum.value % 1000 == 0", "value": "#000000"}, "value": "#555555"}, "labels": false, "domain": false, "title": null, "zindex": 1}},
  "y": {"datum": 0.962, "type": "quantitative", "axis": {"orient": "right", "values": [0.75,0.8,0.85,0.9,0.95,1], "grid": false, "ticks": true, "tickSize": -15, "tickWidth": 4, "tickColor": "#000000", "labels": false, "domain": false, "title": null, "zindex": 1}},
  "text": {"field": "label"}
 }}
]
}
]
}
